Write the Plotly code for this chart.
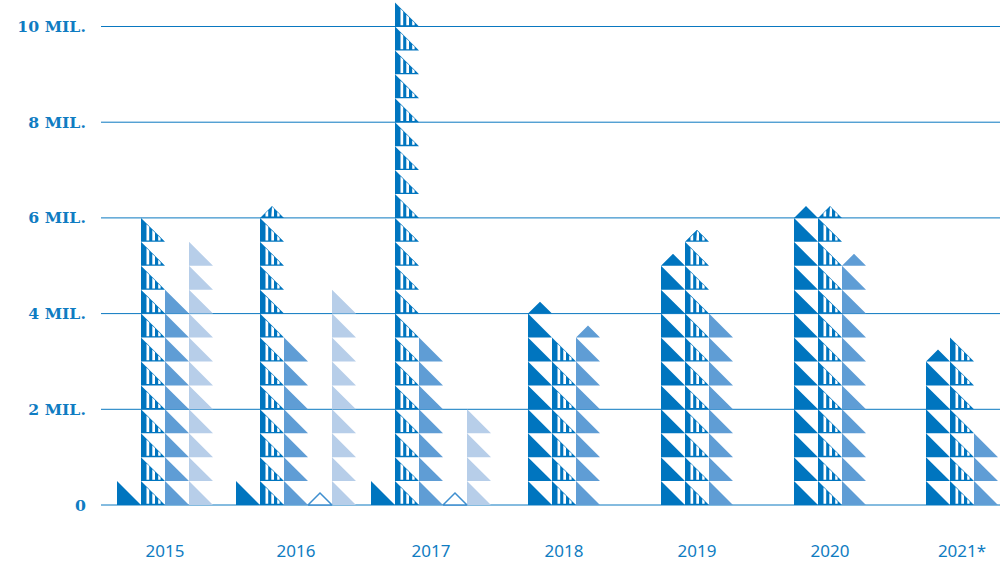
import plotly.graph_objects as go

# ---- data (millions) ----
years = ["2015", "2016", "2017", "2018", "2019", "2020", "2021*"]
series_a = [0.5, 0.5, 0.5, 4.25, 5.25, 6.25, 3.25]
series_b = [6.0, 6.25, 10.5, 3.5, 5.75, 6.25, 3.5]
series_c = [4.5, 3.5, 3.5, 3.75, 4.0, 5.25, 1.5]
series_e = [None, 0.25, 0.25, None, None, None, None]
series_d = [5.5, 4.5, 2.0, None, None, None, None]
y_ticks = [0, 2, 4, 6, 8, 10]
y_labels = ["0", "2 MIL.", "4 MIL.", "6 MIL.", "8 MIL.", "10 MIL."]

# ---- layout constants ----
W, H = 1000, 565
LEFT = 101
PLOT_BOTTOM = 520
ZERO_PX, TEN_PX = 505.0, 26.5
PX_PER_M = (ZERO_PX - TEN_PX) / 10
UNIT = 0.5            # one full triangle = 0.5 M
COL = 24.0            # column width, in x-axis units (px)
centers = [165, 296, 431, 564, 697, 830, 962]
BLUE, MID, PALE = "#0075bf", "#5f9dd5", "#b7cee9"
TXT = "#0f7cc2"
GRID = "#0a78c0"
EDGE = "#3f8fcf"


def columns(i):
    order = [series_a, series_b, series_c, series_e, series_d]
    present = [s for s in order if s[i] is not None]
    start = centers[i] - len(present) * COL / 2
    return {id(s): start + k * COL for k, s in enumerate(present)}


def pictos(series, i):
    """Yield (x0, base, kind) for a value: full right triangles, then a quarter cap."""
    v = series[i]
    if v is None:
        return []
    x0 = columns(i)[id(series)]
    n = int(v // UNIT)
    out = [(x0, k * UNIT, "full") for k in range(n)]
    if v - n * UNIT > 1e-9:
        out.append((x0, n * UNIT, "cap"))
    return out


def outline(x0, base, kind):
    if kind == "full":
        return [x0, x0, x0 + COL, x0, None], [base + UNIT, base, base, base + UNIT, None]
    return [x0, x0 + COL / 2, x0 + COL, x0, None], [base, base + UNIT / 2, base, base, None]


def polys(series):
    xs, ys = [], []
    for i in range(len(years)):
        for p in pictos(series, i):
            a, b = outline(*p)
            xs += a
            ys += b
    return xs, ys


def top_at(x, x0, base, kind):
    f = (x - x0) / COL
    if kind == "full":
        return base + UNIT * (1 - f)
    return base + UNIT * min(f, 1 - f)


def stripes(series):
    """White vertical gaps cut into the striped triangles."""
    xs, ys = [], []
    gaps = [(5.5, 8.2), (11.3, 14.0), (17.2, 19.6)]
    low = 1.3 / PX_PER_M
    inset = 0.8 / PX_PER_M
    for i in range(len(years)):
        for (x0, base, kind) in pictos(series, i):
            for g0, g1 in gaps:
                a, b = x0 + g0, x0 + g1
                ta = top_at(a, x0, base, kind) - inset
                tb = top_at(b, x0, base, kind) - inset
                bottom = base + low
                peak = x0 + COL / 2
                if kind == "cap" and a < peak < b:
                    tp = top_at(peak, x0, base, kind) - inset
                    xs += [a, a, peak, b, b, a, None]
                    ys += [bottom, ta, tp, tb, bottom, bottom, None]
                else:
                    xs += [a, a, b, b, a, None]
                    ys += [bottom, ta, tb, bottom, bottom, None]
    return xs, ys


def filled(xy, fill, name, line_color=None, width=0):
    return go.Scatter(x=xy[0], y=xy[1], mode="lines", fill="toself", fillcolor=fill,
                      line=dict(color=line_color or fill, width=width), hoverinfo="skip",
                      name=name, showlegend=False)


fig = go.Figure()
for t in y_ticks:
    fig.add_trace(go.Scatter(x=[LEFT, W], y=[t, t], mode="lines", hoverinfo="skip",
                             line=dict(color=GRID, width=1), showlegend=False))
fig.add_trace(filled(polys(series_a), BLUE, "A"))
fig.add_trace(filled(polys(series_b), BLUE, "B"))
fig.add_trace(filled(stripes(series_b), "#ffffff", "B gaps"))
fig.add_trace(filled(polys(series_c), MID, "C"))
fig.add_trace(filled(polys(series_d), PALE, "D"))
fig.add_trace(filled(polys(series_e), "#ffffff", "E", EDGE, 1.5))

tick_font = dict(family="DejaVu Serif", size=15.7, color=TXT)
fig.update_layout(
    template="none",
    width=W, height=H, autosize=False,
    margin=dict(l=LEFT, r=0, t=0, b=H - PLOT_BOTTOM, pad=0),
    paper_bgcolor="#ffffff", plot_bgcolor="#ffffff",
    xaxis=dict(range=[LEFT, W], tickmode="array", tickvals=centers, ticktext=years, automargin=False,
               showgrid=False, zeroline=False, showline=False, ticks="outside", ticklen=16,
               tickcolor="rgba(0,0,0,0)", tickfont=dict(family="Noto Sans", size=17, color=TXT),
               fixedrange=True),
    yaxis=dict(range=[(ZERO_PX - PLOT_BOTTOM) / PX_PER_M, ZERO_PX / PX_PER_M], tickmode="array",
               tickvals=y_ticks, ticktext=["<b>%s</b>" % s for s in y_labels], showgrid=False, automargin=False,
               zeroline=False, showline=False, ticks="outside", ticklen=11, tickcolor="rgba(0,0,0,0)",
               tickfont=tick_font, fixedrange=True),
)
fig.write_html("out.html", config={"displayModeBar": False},
               post_script="document.body.style.margin='0';")
